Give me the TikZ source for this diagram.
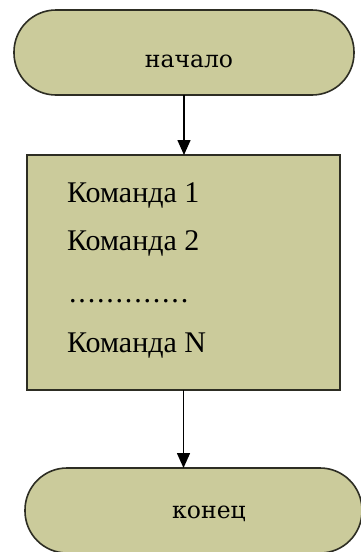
\documentclass[tikz,border=0pt]{standalone}
\usepackage{fontspec}
\setmainfont{Liberation Serif}
\newfontfamily\termfont{DejaVu Serif}
\usetikzlibrary{arrows.meta}
\definecolor{khaki}{RGB}{203,203,155}
\definecolor{edge}{RGB}{45,45,35}
\tikzset{
    terminal/.style={draw=edge, fill=khaki, line width=1.6pt, rounded corners=42pt,
        minimum height=85pt, inner sep=0pt, outer sep=0pt},
    blockbox/.style={draw=edge, fill=khaki, line width=1.6pt, minimum width=313pt,
        minimum height=235pt, inner sep=0pt, outer sep=0pt},
    termtext/.style={font=\termfont\fontsize{23.5}{28}\selectfont, inner sep=0pt},
    cmdtext/.style={font=\fontsize{30}{36}\selectfont, inner sep=0pt},
    flow/.style={line width=1.5pt, -{Triangle[width=13pt,length=15pt]}}
}
\begin{document}
\begin{tikzpicture}[x=1pt, y=-1pt]
    \useasboundingbox[fill=white] (0,0) rectangle (360,552);

    % Shapes
    \node[terminal, minimum width=340pt] (start) at (184,52.5) {};
    \node[blockbox] (block) at (183.5,272.5) {};
    \node[terminal, minimum width=337pt] (stop) at (193.5,510.5) {};

    % Labels
    \node[termtext, anchor=base] (starttext) at (189,67) {начало};
    \node[cmdtext, anchor=base west] (cmd1) at (67,202) {Команда 1};
    \node[cmdtext, anchor=base west] (cmd2) at (67,250) {Команда 2};
    \node[cmdtext, anchor=base west] (dots) at (69,302)
        {\addfontfeatures{LetterSpace=6}.............};
    \node[cmdtext, anchor=base west] (cmdN) at (67,352) {Команда N};
    \node[termtext, anchor=base] (stoptext) at (209,518) {конец};

    % Connectors
    \draw[flow] (start.south) -- (start.south |- block.north);
    \draw[flow] (block.south) -- (block.south |- stop.north);
\end{tikzpicture}
\end{document}
